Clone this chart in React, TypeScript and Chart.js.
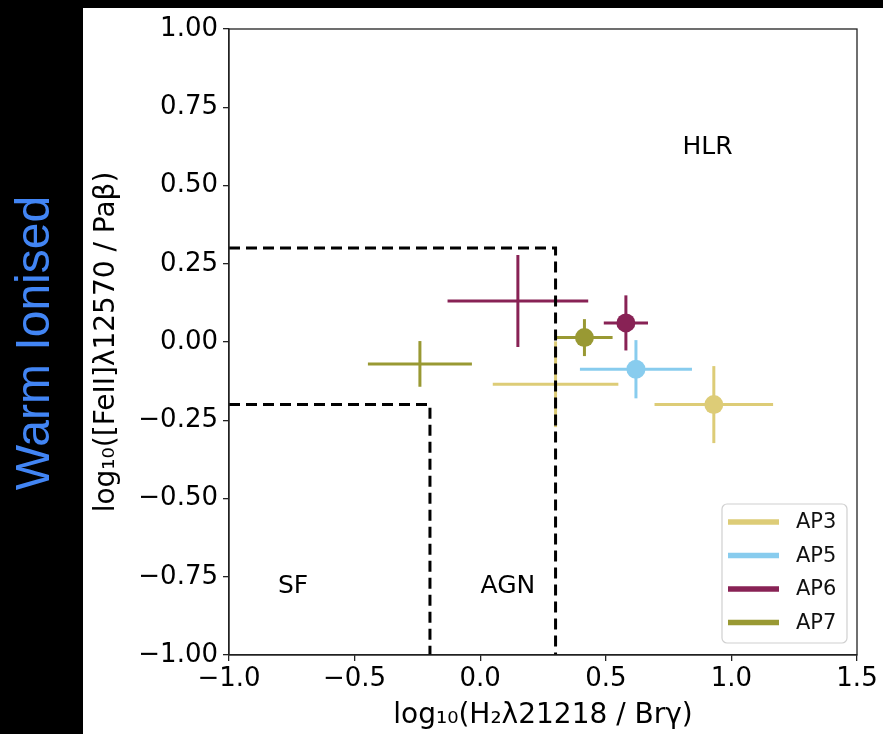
import React, { useEffect, useRef } from "react";
import { Chart, registerables } from "chart.js";

Chart.register(...registerables);

// ---------- data ----------
const seriesNames = ["AP3", "AP5", "AP6", "AP7"];
const seriesColors = ["#DDCC77", "#88CCEE", "#882255", "#999933"];

const pointSeries = ["AP3", "AP3", "AP5", "AP6", "AP6", "AP7", "AP7"];
const pointX = [0.93, 0.3, 0.62, 0.58, 0.15, 0.415, -0.24];
const pointY = [-0.2, -0.135, -0.087, 0.061, 0.131, 0.014, -0.07];
const pointXErr = [0.236, 0.25, 0.223, 0.088, 0.28, 0.112, 0.207];
const pointYErr = [0.123, 0.137, 0.093, 0.088, 0.147, 0.059, 0.073];
const pointHasMarker = [true, false, true, true, false, true, false];

const agnBoundaryX = [-1, 0.3, 0.3];
const agnBoundaryY = [0.3, 0.3, -1];
const sfBoundaryX = [-1, -0.2, -0.2];
const sfBoundaryY = [-0.2, -0.2, -1];

const regionLabels = ["SF", "AGN", "HLR"];
const regionX = [-0.745, 0.11, 0.905];
const regionY = [-0.78, -0.78, 0.62];

const xTickValues = [-1.0, -0.5, 0.0, 0.5, 1.0, 1.5];
const yTickValues = [-1.0, -0.75, -0.5, -0.25, 0.0, 0.25, 0.5, 0.75, 1.0];

const xTitle = "log₁₀(H₂λ21218 / Brγ)";
const yTitle = "log₁₀([FeII]λ12570 / Paβ)";
const sideLabel = "Warm Ionised";

const FONT = "'DejaVu Sans', sans-serif";

const colorOf = (name: string) => seriesColors[seriesNames.indexOf(name)];
const fmt = (v: number, d: number) => {
  const s = Math.abs(v).toFixed(d);
  return v < -1e-9 ? "\u2212" + s : s;
};

export default function App() {
  const ref = useRef<HTMLCanvasElement | null>(null);

  useEffect(() => {
    if (!ref.current) return;
    const datasets: any[] = [];

    // error bars
    pointX.forEach((x, i) => {
      const c = colorOf(pointSeries[i]);
      datasets.push({
        type: "line",
        data: [
          { x: x - pointXErr[i], y: pointY[i] },
          { x: x + pointXErr[i], y: pointY[i] },
        ],
        borderColor: c,
        borderWidth: 3,
        pointRadius: 0,
        showLine: true,
        fill: false,
        order: 2,
      });
      datasets.push({
        type: "line",
        data: [
          { x, y: pointY[i] - pointYErr[i] },
          { x, y: pointY[i] + pointYErr[i] },
        ],
        borderColor: c,
        borderWidth: 3,
        pointRadius: 0,
        showLine: true,
        fill: false,
        order: 2,
      });
    });

    // markers
    pointX.forEach((x, i) => {
      if (!pointHasMarker[i]) return;
      const c = colorOf(pointSeries[i]);
      datasets.push({
        type: "scatter",
        data: [{ x, y: pointY[i] }],
        backgroundColor: c,
        borderColor: c,
        borderWidth: 0,
        pointRadius: 9.5,
        order: 0,
      });
    });

    // boundaries
    [
      [agnBoundaryX, agnBoundaryY],
      [sfBoundaryX, sfBoundaryY],
    ].forEach(([bx, by]) => {
      datasets.push({
        type: "line",
        data: bx.map((x, k) => ({ x, y: by[k] })),
        borderColor: "#000",
        borderWidth: 3,
        borderDash: [11, 6],
        pointRadius: 0,
        showLine: true,
        fill: false,
        tension: 0,
        order: 1,
      });
    });

    const bgPlugin = {
      id: "bg",
      beforeDraw(chart: any) {
        const ctx = chart.ctx;
        ctx.save();
        ctx.fillStyle = "#000";
        ctx.fillRect(0, 0, chart.width, chart.height);
        ctx.fillStyle = "#fff";
        ctx.fillRect(83, 8, chart.width - 83, chart.height - 8);
        ctx.translate(36, 343);
        ctx.rotate(-Math.PI / 2);
        ctx.fillStyle = "#4285F4";
        ctx.font = "48px 'Liberation Sans', Arial, sans-serif";
        ctx.textAlign = "center";
        ctx.textBaseline = "middle";
        ctx.fillText(sideLabel, 0, 0);
        ctx.restore();
      },
    };

    const overlayPlugin = {
      id: "overlay",
      afterDraw(chart: any) {
        const ctx = chart.ctx;
        const a = chart.chartArea;
        const sx = chart.scales.x;
        const sy = chart.scales.y;
        ctx.save();
        // frame
        ctx.strokeStyle = "#222";
        ctx.lineWidth = 1.3;
        ctx.strokeRect(a.left, a.top, a.right - a.left, a.bottom - a.top);
        // region labels
        ctx.fillStyle = "#000";
        ctx.font = `25px ${FONT}`;
        ctx.textAlign = "center";
        ctx.textBaseline = "middle";
        regionLabels.forEach((t, i) => {
          ctx.fillText(t, sx.getPixelForValue(regionX[i]), sy.getPixelForValue(regionY[i]));
        });
        // legend
        const boxW = 125;
        const boxH = 139;
        const bx = a.right - 10 - boxW;
        const by = a.bottom - 12 - boxH;
        ctx.beginPath();
        (ctx as any).roundRect(bx, by, boxW, boxH, 5);
        ctx.fillStyle = "rgba(255,255,255,0.8)";
        ctx.fill();
        ctx.strokeStyle = "#d0d0d0";
        ctx.lineWidth = 1.2;
        ctx.stroke();
        ctx.font = `21px ${FONT}`;
        ctx.textAlign = "left";
        seriesNames.forEach((n, i) => {
          const yy = by + 18 + i * 33.5;
          ctx.strokeStyle = seriesColors[i];
          ctx.lineWidth = 5.5;
          ctx.beginPath();
          ctx.moveTo(bx + 6, yy);
          ctx.lineTo(bx + 57, yy);
          ctx.stroke();
          ctx.fillStyle = "#111";
          ctx.fillText(n, bx + 74, yy + 1);
        });
        ctx.restore();
      },
    };

    const chart = new Chart(ref.current, {
      type: "scatter",
      data: { datasets },
      options: {
        animation: false,
        responsive: false,
        events: [],
        layout: { padding: { left: 83, top: 29, right: 26, bottom: 0 } },
        plugins: { legend: { display: false }, tooltip: { enabled: false } },
        scales: {
          x: {
            type: "linear",
            min: -1,
            max: 1.5,
            afterFit: (s: any) => {
              s.height = 79;
            },
            afterBuildTicks: (s: any) => {
              s.ticks = xTickValues.map((v) => ({ value: v }));
            },
            ticks: {
              autoSkip: false,
              maxRotation: 0,
              padding: 3,
              color: "#000",
              font: { family: FONT, size: 26 },
              callback: (v: any) => fmt(Number(v), 1),
            },
            grid: {
              drawOnChartArea: false,
              drawTicks: true,
              tickLength: 6,
              color: "#222",
              lineWidth: 1.3,
            },
            border: { display: true, color: "#222", width: 1.3 },
            title: {
              display: true,
              text: xTitle,
              color: "#000",
              font: { family: FONT, size: 28 },
              padding: { top: 0, bottom: 1 },
            },
          },
          y: {
            type: "linear",
            min: -1,
            max: 1,
            afterFit: (s: any) => {
              s.width = 146;
            },
            afterBuildTicks: (s: any) => {
              s.ticks = yTickValues.map((v) => ({ value: v }));
            },
            ticks: {
              autoSkip: false,
              padding: 5,
              color: "#000",
              font: { family: FONT, size: 26 },
              callback: (v: any) => fmt(Number(v), 2),
            },
            grid: {
              drawOnChartArea: false,
              drawTicks: true,
              tickLength: 6,
              color: "#222",
              lineWidth: 1.3,
            },
            border: { display: true, color: "#222", width: 1.3 },
            title: {
              display: true,
              text: yTitle,
              color: "#000",
              font: { family: FONT, size: 28 },
              padding: { top: 7, bottom: 0 },
            },
          },
        },
      },
      plugins: [bgPlugin, overlayPlugin],
    } as any);

    return () => chart.destroy();
  }, []);

  return (
    <div style={{ position: "fixed", left: 0, top: 0, width: 883, height: 734, background: "#000" }}>
      <canvas ref={ref} width={883} height={734} style={{ display: "block", width: 883, height: 734 }} />
    </div>
  );
}
